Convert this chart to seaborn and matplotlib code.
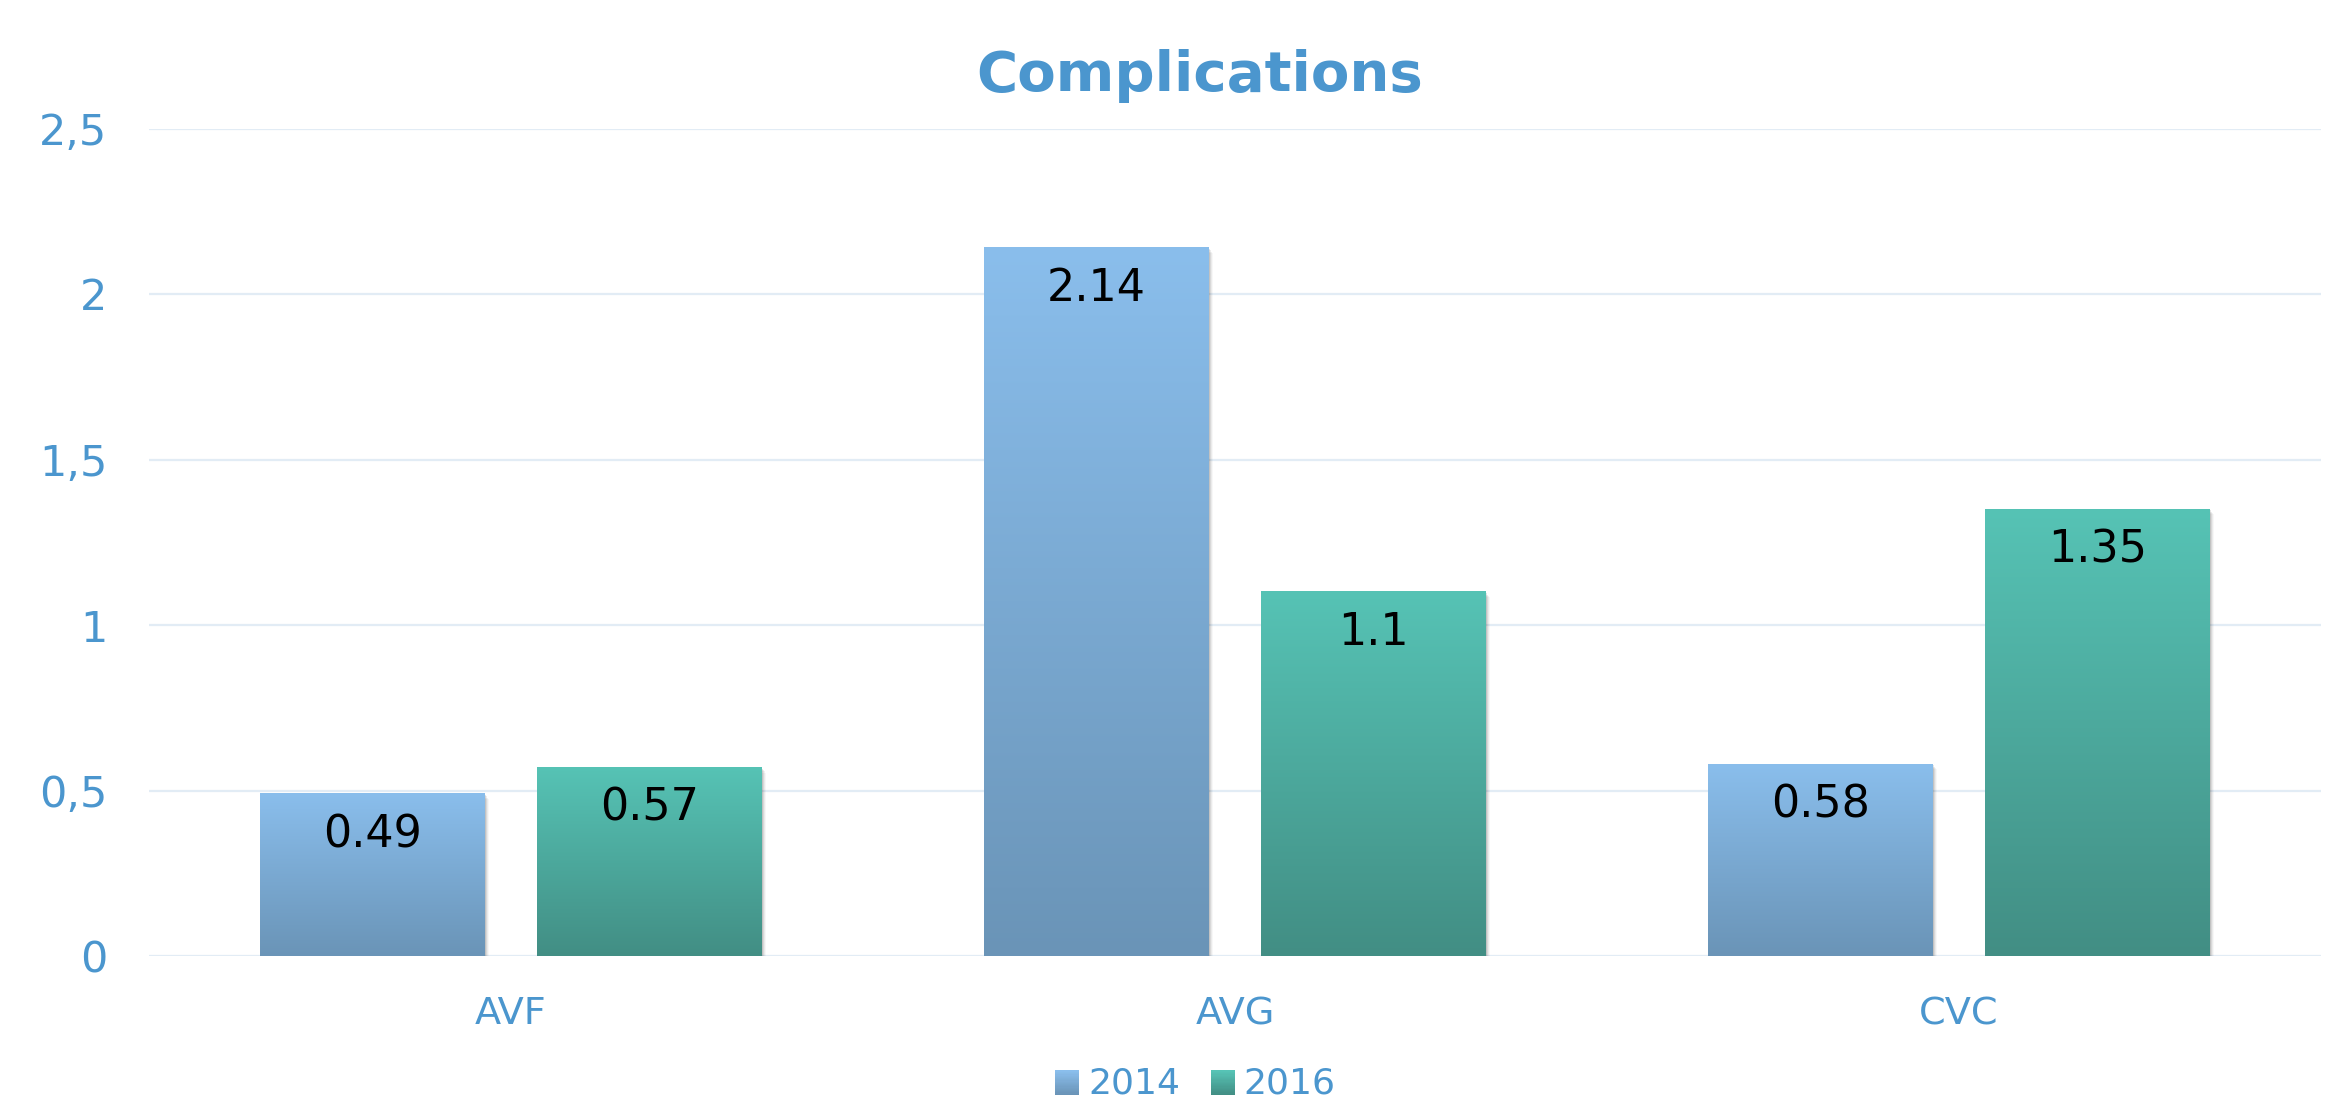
import numpy as np
import pandas as pd
import matplotlib
matplotlib.use("Agg")
import matplotlib.pyplot as plt
import seaborn as sns
from matplotlib.patches import Rectangle
from matplotlib.legend_handler import HandlerBase
from matplotlib.colors import LinearSegmentedColormap, to_rgb

categories = ["AVF", "AVG", "CVC"]
series_names = ["2014", "2016"]
values_2014 = [0.49, 2.14, 0.58]
values_2016 = [0.57, 1.1, 1.35]
label_2014 = ["0.49", "2.14", "0.58"]
label_2016 = ["0.57", "1.1", "1.35"]
y_ticks = [0, 0.5, 1, 1.5, 2, 2.5]
y_tick_labels = ["0", "0,5", "1", "1,5", "2", "2,5"]

grad_colors = {
    "2014": ("#8ABEEC", "#6A94B7"),
    "2016": ("#56C3B5", "#428E84"),
}
text_blue = "#4B96CE"
grid_color = "#E2ECF5"

df = pd.DataFrame({
    "category": categories * 2,
    "year": [series_names[0]] * 3 + [series_names[1]] * 3,
    "value": values_2014 + values_2016,
    "label": label_2014 + label_2016,
})

sns.set_theme(style="white")
plt.rcParams["font.family"] = ["DejaVu Sans"]

W, H = 2341, 1105
fig = plt.figure(figsize=(W / 100, H / 100), dpi=100)
ax = fig.add_axes([149 / W, 149 / H, (2321 - 149) / W, (956 - 128.5) / H])

palette = {k: v[0] for k, v in grad_colors.items()}
sns.barplot(data=df, x="category", y="value", hue="year", order=categories,
            hue_order=series_names, palette=palette, width=0.765, gap=0.188,
            ax=ax, legend=False, saturation=1, linewidth=0)

ax.set_ylim(0, 2.5)
ax.set_xlim(-0.5, 2.5)

# gradient fill for bars
bars = [p for p in ax.patches if isinstance(p, Rectangle)]
grad = np.linspace(1, 0, 256).reshape(-1, 1)
for i, bar in enumerate(bars):
    year = series_names[i // len(categories)]
    top_c, bot_c = grad_colors[year]
    cmap = LinearSegmentedColormap.from_list("g" + year, [bot_c, top_c])
    x0, y0 = bar.get_x(), bar.get_y()
    w, h = bar.get_width(), bar.get_height()
    # soft shadow
    for k, a in zip(range(1, 5), [0.10, 0.07, 0.05, 0.03]):
        ax.add_patch(Rectangle((x0 + w, y0 - 0.004 * k), 0.0015 * k, h, color="black",
                               alpha=a, lw=0, zorder=1))
        ax.add_patch(Rectangle((x0, y0 - 0.0025 * k), w + 0.0015 * k, 0.0025, color="black",
                               alpha=a, lw=0, zorder=1))
    ax.imshow(grad, extent=[x0, x0 + w, y0, y0 + h], aspect="auto", cmap=cmap,
              zorder=2, interpolation="bicubic")
    bar.set_visible(False)
    lab = df["label"].iloc[i]
    ax.annotate(lab, xy=(x0 + w / 2, y0 + h), xytext=(0, -14), textcoords="offset points",
                ha="center", va="top", fontsize=32, color="black", zorder=3)

ax.set_xlim(-0.5, 2.5)
ax.set_ylim(0, 2.5)

ax.set_yticks(y_ticks)
ax.set_yticklabels(y_tick_labels)
ax.yaxis.grid(True, color=grid_color, linewidth=1.6)
ax.set_axisbelow(True)
ax.tick_params(axis="y", colors=text_blue, labelsize=31, length=0, pad=30)
ax.tick_params(axis="x", colors=text_blue, labelsize=27.5, length=0, pad=29)
ax.set_xlabel("")
ax.set_ylabel("")
for s in ax.spines.values():
    s.set_visible(False)

fig.text(1200 / W, 1 - 91 / H, "Complications", ha="center", va="baseline",
         fontsize=40.5, fontweight="bold", color=text_blue)


class GradHandler(HandlerBase):
    def __init__(self, top, bot):
        super().__init__()
        self.top = np.array(to_rgb(top))
        self.bot = np.array(to_rgb(bot))

    def create_artists(self, legend, orig_handle, xdescent, ydescent, width, height,
                       fontsize, trans):
        n = 20
        size = height * 0.95
        x0 = -xdescent + (width - size)
        y0 = -ydescent + (height - size) / 2 - 0.1 * height
        arts = []
        for j in range(n):
            t = j / (n - 1)
            c = self.bot * (1 - t) + self.top * t
            arts.append(Rectangle((x0, y0 + size * j / n), size, size / n + 0.3,
                                  facecolor=c, edgecolor="none", transform=trans))
        return arts


h1 = Rectangle((0, 0), 1, 1)
h2 = Rectangle((0, 0), 1, 1)
fig.legend([h1, h2], series_names, loc="center", bbox_to_anchor=(1193 / W, 1 - 1083 / H),
           ncol=2, frameon=False, fontsize=26, labelcolor=text_blue,
           handler_map={h1: GradHandler(*grad_colors["2014"]), h2: GradHandler(*grad_colors["2016"])},
           handlelength=0.8, handletextpad=0.25, columnspacing=0.7, borderpad=0)

fig.savefig("out.png", dpi=100)
